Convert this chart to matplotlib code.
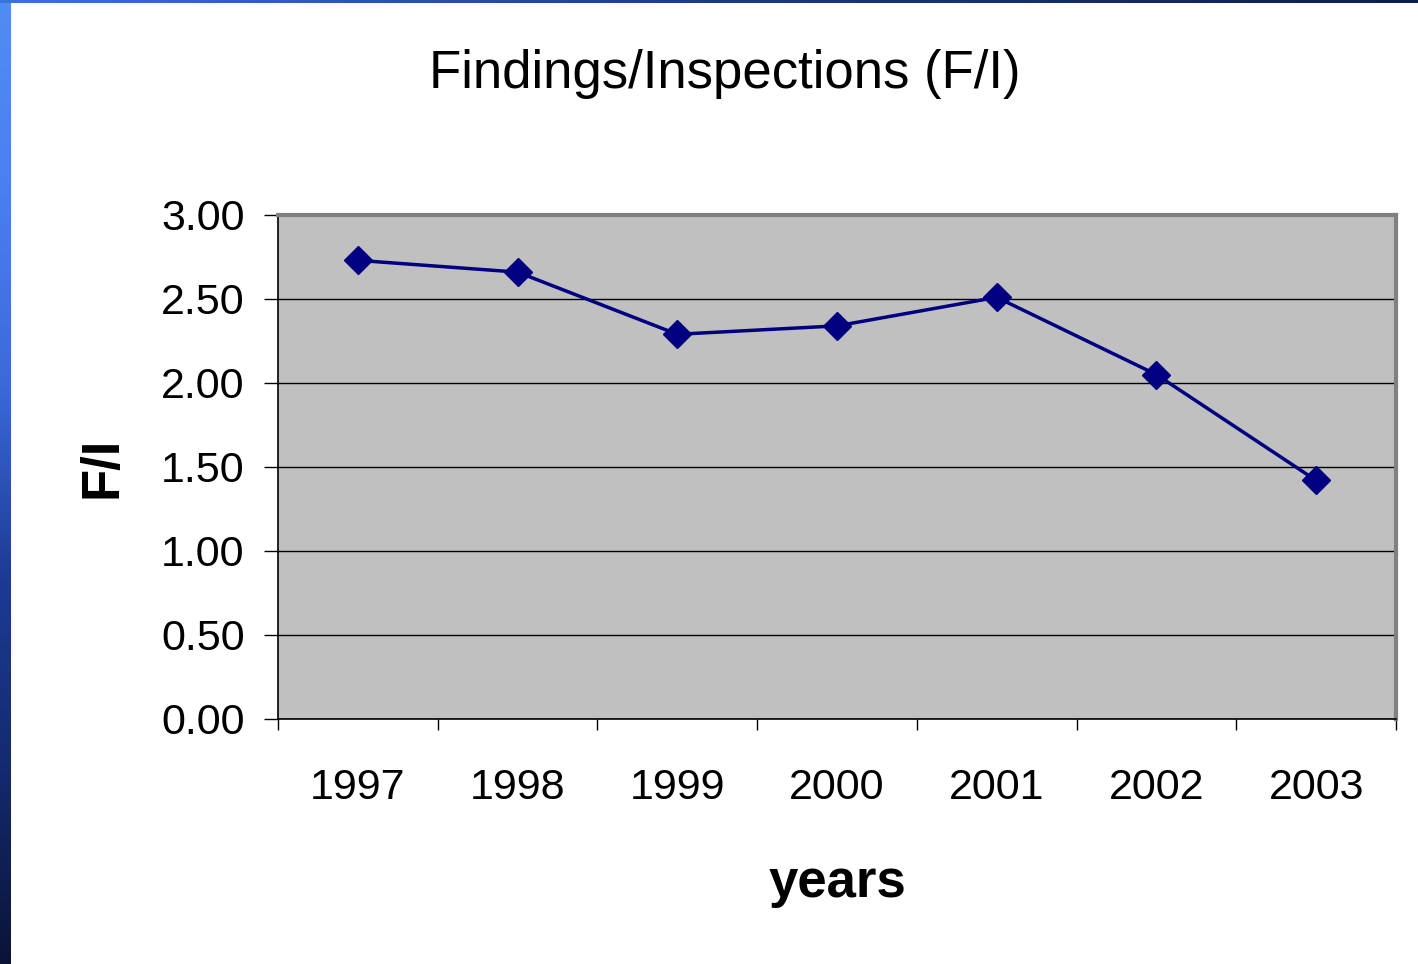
import numpy as np
import matplotlib.pyplot as plt
from matplotlib.colors import LinearSegmentedColormap

years = ["1997", "1998", "1999", "2000", "2001", "2002", "2003"]
fi_values = [2.73, 2.66, 2.29, 2.34, 2.51, 2.05, 1.42]
y_ticks = [0.0, 0.5, 1.0, 1.5, 2.0, 2.5, 3.0]

plt.rcParams["font.family"] = ["Liberation Sans", "DejaVu Sans"]

fig = plt.figure(figsize=(14.18, 9.64), dpi=100)
fig.patch.set_facecolor("white")

# slide border: blue strip on the left and along the top
grad = np.linspace(0, 1, 256).reshape(-1, 1)
side_cmap = LinearSegmentedColormap.from_list(
    "side", ["#4f8ef0", "#4a7ff0", "#3a6ad8", "#1d3a95", "#142a70", "#0b1436"])
left = fig.add_axes([0, 0, 11 / 1418, 1])
left.imshow(grad, aspect="auto", cmap=side_cmap)
left.set_axis_off()
top = fig.add_axes([0, 1 - 3 / 964, 1, 3 / 964])
top.imshow(np.linspace(0, 1, 256).reshape(1, -1), aspect="auto",
           cmap=LinearSegmentedColormap.from_list("top", ["#3a72e0", "#1c3a8a", "#0d1d55"]))
top.set_axis_off()

ax = fig.add_axes([278 / 1418, 1 - 719 / 964, (1396 - 278) / 1418, (719 - 215) / 964])
ax.set_facecolor("#c0c0c0")

x = np.arange(len(years))
ax.plot(x, fi_values, color="#000080", linewidth=2.5, marker="D",
        markersize=14, markerfacecolor="#000080", markeredgecolor="#000080", zorder=3)

ax.set_xlim(-0.5, len(years) - 0.5)
ax.set_ylim(0, 3)
ax.set_yticks(y_ticks)
ax.set_yticklabels([f"{v:.2f}" for v in y_ticks])
ax.set_xticks(x)
ax.set_xticklabels(years)
ax.set_xticks(np.arange(len(years) + 1) - 0.5, minor=True)
ax.tick_params(axis="x", which="major", length=0, pad=35, labelsize=31)
ax.tick_params(axis="x", which="minor", length=8, width=1, direction="out", color="black")
ax.tick_params(axis="y", length=10, width=1, direction="out", pad=14, labelsize=31)

ax.grid(axis="y", color="black", linewidth=1)
ax.set_axisbelow(True)

ax.spines["left"].set_color("black")
ax.spines["bottom"].set_color("black")
ax.spines["left"].set_linewidth(1.2)
ax.spines["bottom"].set_linewidth(1.2)
ax.spines["top"].set_color("#808080")
ax.spines["right"].set_color("#808080")
ax.spines["top"].set_linewidth(3)
ax.spines["right"].set_linewidth(3)

ax.set_xlabel("years", fontsize=38, fontweight="bold", labelpad=36)
ax.set_ylabel("F/I", fontsize=38, fontweight="bold", labelpad=24)
fig.text(725 / 1418, 1 - 74 / 964, "Findings/Inspections (F/I)", fontsize=38,
         ha="center", va="center")

fig.savefig("out.png", dpi=100)
